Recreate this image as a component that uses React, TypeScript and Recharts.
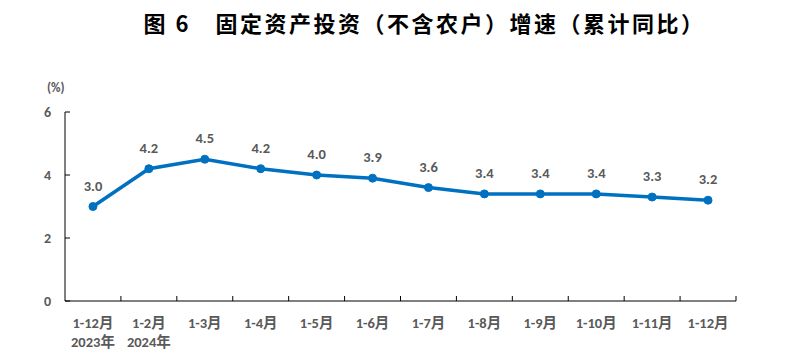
import React from 'react';
import { LineChart, Line, XAxis, YAxis, LabelList } from 'recharts';

const periods = ['1-12月', '1-2月', '1-3月', '1-4月', '1-5月', '1-6月', '1-7月', '1-8月', '1-9月', '1-10月', '1-11月', '1-12月'];
const years = ['2023年', '2024年', '', '', '', '', '', '', '', '', '', ''];
const growth = [3.0, 4.2, 4.5, 4.2, 4.0, 3.9, 3.6, 3.4, 3.4, 3.4, 3.3, 3.2];
const yTicks = [0, 2, 4, 6];

const data = periods.map((p, i) => ({ idx: i, period: p, year: years[i], value: growth[i] }));

const W = 787;
const H = 364;
const LEFT = 65;
const RIGHT = 736;
const TOP = 112;
const BOTTOM = 301;
const band = (RIGHT - LEFT) / periods.length;
const textColor = '#595959';
const font = 'Calibri, "Noto Sans CJK SC", "Liberation Sans", sans-serif';

const XTick = (props: any) => {
  const { x, index } = props;
  const d = data[index];
  return (
    <g>
      <line x1={x + band / 2} x2={x + band / 2} y1={BOTTOM} y2={BOTTOM - 5} stroke="#000" strokeWidth={1} />
      <text x={x} y={328} textAnchor="middle" fill={textColor} fontSize={14.5} fontWeight="bold" fontFamily={font}>
        {d.period}
      </text>
      {d.year && (
        <text x={x} y={347} textAnchor="middle" fill={textColor} fontSize={14.5} fontWeight="bold" fontFamily={font}>
          {d.year}
        </text>
      )}
    </g>
  );
};

const YTick = (props: any) => {
  const { y, payload } = props;
  return (
    <g>
      <line x1={LEFT} x2={LEFT + 5} y1={y} y2={y} stroke="#000" strokeWidth={1} />
      <text x={51} y={y + 5} textAnchor="end" fill={textColor} fontSize={14} fontWeight="bold" fontFamily={font}>
        {payload.value}
      </text>
    </g>
  );
};

export default function App() {
  return (
    <div style={{ position: 'absolute', left: 0, top: 0, width: W, height: H, background: '#fff' }}>
      <div
        style={{
          position: 'absolute',
          left: 0,
          width: W,
          top: 6,
          textAlign: 'center',
          paddingLeft: 62,
          boxSizing: 'border-box',
          fontFamily: '"Noto Sans CJK SC", serif',
          fontWeight: 'bold',
          fontSize: 22,
          color: '#000',
          letterSpacing: 2.5,
        }}
      >
        图 6　固定资产投资（不含农户）增速（累计同比）
      </div>
      <div
        style={{
          position: 'absolute',
          left: 47,
          top: 80,
          fontFamily: font,
          fontWeight: 'bold',
          fontSize: 13,
          color: textColor,
        }}
      >
        (%)
      </div>
      <LineChart
        width={W}
        height={H}
        data={data}
        margin={{ top: TOP, right: W - RIGHT, bottom: 13, left: 35 }}
      >
        <XAxis
          dataKey="idx"
          type="category"
          scale="band"
          height={50}
          stroke="#000"
          tickLine={false}
          interval={0}
          tick={<XTick />}
        />
        <YAxis
          width={30}
          domain={[0, 6]}
          ticks={yTicks}
          stroke="#000"
          tickLine={false}
          tick={<YTick />}
        />
        <Line
          type="linear"
          dataKey="value"
          stroke="#0070C0"
          strokeWidth={3.5}
          dot={{ r: 4, fill: '#0070C0', stroke: '#0070C0', strokeWidth: 1 }}
          isAnimationActive={false}
        >
          <LabelList
            dataKey="value"
            position="top"
            offset={16}
            formatter={(v: any) => Number(v).toFixed(1)}
            fill={textColor}
            fontSize={14.5}
            fontWeight="bold"
            fontFamily={font}
          />
        </Line>
      </LineChart>
    </div>
  );
}
